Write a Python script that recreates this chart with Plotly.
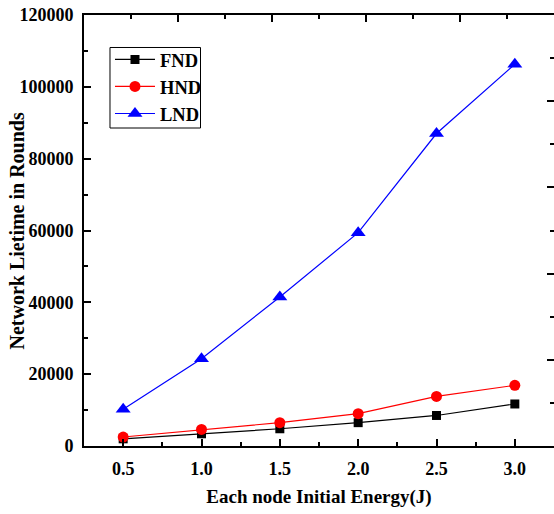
import plotly.graph_objects as go

# Initial energy per node (J)
energy = [0.5, 1.0, 1.5, 2.0, 2.5, 3.0]

# Network lifetime in rounds
fnd = [2000, 3400, 4800, 6500, 8500, 11700]
hnd = [2500, 4600, 6500, 9000, 13800, 16900]
lnd = [10200, 24300, 41500, 59400, 87000, 106300]

font_family = "Liberation Serif, Times New Roman, serif"

fig = go.Figure()
fig.add_trace(go.Scatter(x=energy, y=fnd, name="FND", mode="lines+markers",
                         line=dict(color="black", width=1.2),
                         marker=dict(symbol="square", size=9, color="black")))
fig.add_trace(go.Scatter(x=energy, y=hnd, name="HND", mode="lines+markers",
                         line=dict(color="red", width=1.2),
                         marker=dict(symbol="circle", size=11, color="red")))
fig.add_trace(go.Scatter(x=energy, y=lnd, name="LND", mode="lines+markers",
                         line=dict(color="blue", width=1.2),
                         marker=dict(symbol="triangle-up", size=13, color="blue")))

# invisible trace that carries the top and right mirror axes
fig.add_trace(go.Scatter(x=[0], y=[0], xaxis="x2", yaxis="y2", mode="markers",
                         marker=dict(opacity=0), showlegend=False, hoverinfo="skip"))

tick_font = dict(family=font_family, size=18, color="black", weight="bold")
xtitle_font = dict(family=font_family, size=19, color="black", weight="bold")
ytitle_font = dict(family=font_family, size=20, color="black", weight="bold")

fig.update_layout(
    width=554, height=514,
    margin=dict(l=84, r=0, t=15, b=68),
    plot_bgcolor="white", paper_bgcolor="white",
    showlegend=True,
    legend=dict(x=0.0553, y=0.94, xanchor="left", yanchor="top",
                bgcolor="rgba(0,0,0,0)", borderwidth=0,
                itemwidth=40,
                font=dict(family=font_family, size=18.5, color="black", weight="bold"),
                tracegroupgap=0),
    shapes=[dict(type="rect", xref="paper", yref="paper",
                 x0=0.0553, x1=0.2479, y0=0.7378, y1=0.9246,
                 line=dict(color="black", width=1), fillcolor="white", layer="below")],
    annotations=[dict(text="Network Lietime in Rounds", textangle=-90,
                      xref="paper", yref="paper", x=-0.1426, y=0.5,
                      xanchor="center", yanchor="middle", showarrow=False,
                      font=ytitle_font)],
    xaxis=dict(range=[0.25, 3.25], tick0=0.5, dtick=0.5, tickformat=".1f",
               ticks="inside", ticklen=7, tickwidth=1.5, tickcolor="black",
               minor=dict(dtick=0.25, tick0=0.25, ticks="inside", ticklen=4,
                          tickwidth=1.5, tickcolor="black"),
               showline=True, linecolor="black", linewidth=2, mirror=False,
               showgrid=False, zeroline=False,
               tickfont=tick_font, ticklabelstandoff=5,
               title=dict(text="Each node Initial Energy(J)", font=xtitle_font, standoff=12)),
    yaxis=dict(range=[0, 120000], dtick=20000, tickformat="d",
               ticks="inside", ticklen=7, tickwidth=1.5, tickcolor="black",
               minor=dict(dtick=10000, ticks="inside", ticklen=4,
                          tickwidth=1.5, tickcolor="black"),
               showline=True, linecolor="black", linewidth=2, mirror=False,
               showgrid=False, zeroline=False,
               tickfont=tick_font, ticklabelstandoff=5),
    xaxis2=dict(overlaying="x", side="top", range=[0, 5], dtick=1,
                ticks="inside", ticklen=7, tickwidth=1.5, tickcolor="black",
                minor=dict(dtick=0.5, ticks="inside", ticklen=4,
                           tickwidth=1.5, tickcolor="black"),
                showline=True, linecolor="black", linewidth=2,
                showticklabels=False, showgrid=False, zeroline=False),
    yaxis2=dict(overlaying="y", side="right", range=[0, 5], dtick=1,
                ticks="inside", ticklen=7, tickwidth=1.5, tickcolor="black",
                minor=dict(dtick=0.5, ticks="inside", ticklen=4,
                           tickwidth=1.5, tickcolor="black"),
                showline=False, showticklabels=False, showgrid=False, zeroline=False),
)

fig.write_html("out.html")
